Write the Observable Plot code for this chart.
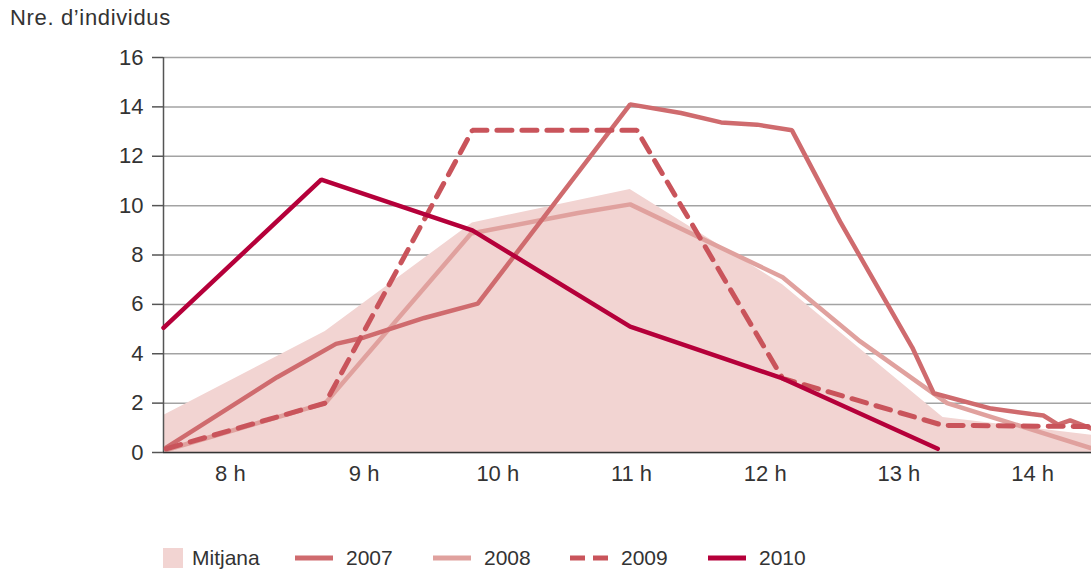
<!DOCTYPE html>
<html>
<head>
<meta charset="utf-8">
<script src="https://cdn.jsdelivr.net/npm/d3@7"></script>
<script src="https://cdn.jsdelivr.net/npm/@observablehq/plot@0.6"></script>
<style>
  html, body { margin: 0; padding: 0; background: #fff; }
  body { width: 1091px; height: 572px; position: relative; overflow: hidden;
         font-family: "Liberation Sans", Arial, sans-serif; color: #333; }
  #title { position: absolute; left: 10px; top: 7px; font-size: 22px; line-height: 22px; letter-spacing: 0.65px; }
  #chart { position: absolute; left: 0; top: 40px; }
  #chart text { font-size: 22px; }
  #legend { position: absolute; left: 0; top: 546px; width: 1091px; height: 24px; font-size: 21px; line-height: 24px; }
  .item { position: absolute; top: 0; display: flex; align-items: center; height: 24px; }
  .item svg { display: block; }
</style>
</head>
<body>
<div id="title">Nre. d’individus</div>
<div id="chart"></div>
<div id="legend"></div>
<script>
// ---- data (hours of day, number of individuals) ----
const xDomain = [7.5, 14.44];
const hourTicks = [8, 9, 10, 11, 12, 13, 14];
const yTicks = [0, 2, 4, 6, 8, 10, 12, 14, 16];
const seriesNames = ["Mitjana", "2007", "2008", "2009", "2010"];

const mitjanaHours  = [7.5, 8.71, 9.81, 10.99, 12.13, 13.33, 14.44];
const mitjanaValues = [1.5, 4.9, 9.3, 10.65, 6.8, 1.42, 0.7];

const hours2007  = [7.52, 8.35, 8.79, 9.0, 9.45, 9.85, 10.99, 11.37, 11.67, 11.94, 12.2, 12.56, 13.1, 13.26, 13.69, 13.99, 14.08, 14.19, 14.28, 14.44];
const values2007 = [0.2, 3.05, 4.4, 4.66, 5.45, 6.03, 14.1, 13.75, 13.37, 13.28, 13.05, 9.35, 4.25, 2.4, 1.78, 1.56, 1.5, 1.13, 1.3, 0.97];

const hours2008  = [7.52, 8.71, 9.8, 10.6, 10.99, 12.13, 12.71, 13.36, 14.44];
const values2008 = [0.1, 2.0, 8.87, 9.7, 10.05, 7.1, 4.5, 2.0, 0.17];

const hours2009  = [7.52, 8.71, 9.81, 11.04, 12.13, 13.33, 14.44];
const values2009 = [0.15, 2.0, 13.05, 13.05, 3.0, 1.1, 1.05];

const hours2010  = [7.5, 8.68, 9.81, 10.99, 12.13, 13.29];
const values2010 = [5.05, 11.05, 9.0, 5.1, 3.0, 0.15];

const colors = {
  "Mitjana": "#f2d4d2",
  "2007": "#cf6b6e",
  "2008": "#e0a19e",
  "2009": "#c9545b",
  "2010": "#b5003a"
};

const toRows = (hs, vs) => hs.map((h, i) => ({h, v: vs[i]}));
const mitjana = toRows(mitjanaHours, mitjanaValues);
const d2007 = toRows(hours2007, values2007);
const d2008 = toRows(hours2008, values2008);
const d2009 = toRows(hours2009, values2009);
const d2010 = toRows(hours2010, values2010);

const chart = Plot.plot({
  width: 1091,
  height: 470,
  marginLeft: 163,
  marginRight: 0,
  marginTop: 17,
  marginBottom: 58,
  style: {fontFamily: "'Liberation Sans', Arial, sans-serif", fontSize: "22px", color: "#333", background: "transparent"},
  x: {domain: xDomain, label: null},
  y: {domain: [0, 16], label: null},
  marks: [
    Plot.gridY(yTicks, {stroke: "#a3a3a3", strokeOpacity: 1, strokeWidth: 1.5}),
    Plot.areaY(mitjana, {x: "h", y: "v", fill: colors["Mitjana"], curve: "linear"}),
    Plot.ruleX([xDomain[0]], {y1: 0, y2: 16, stroke: "#555", strokeWidth: 1.5}),
    Plot.line(d2008, {x: "h", y: "v", stroke: colors["2008"], strokeWidth: 4.5, strokeLinejoin: "miter"}),
    Plot.line(d2007, {x: "h", y: "v", stroke: colors["2007"], strokeWidth: 4.5, strokeLinejoin: "miter"}),
    Plot.line(d2009, {x: "h", y: "v", stroke: colors["2009"], strokeWidth: 5, strokeDasharray: "15,10", strokeLinejoin: "miter"}),
    Plot.line(d2010, {x: "h", y: "v", stroke: colors["2010"], strokeWidth: 4.5, strokeLinejoin: "miter"}),
    Plot.ruleY([0], {stroke: "#333", strokeWidth: 1.5}),
    Plot.axisY(yTicks, {tickSize: 11, tickPadding: 9, stroke: "#555", strokeWidth: 1.5, fill: "#333"}),
    Plot.axisX(hourTicks, {tickSize: 0, tickPadding: 13, tickFormat: d => `${d} h`, fill: "#333"})
  ]
});
document.getElementById("chart").appendChild(chart);

// ---- legend ----
const legendLeft = [163, 295, 433, 570, 708];
const legend = d3.select("#legend");
seriesNames.forEach((name, i) => {
  const item = legend.append("div").attr("class", "item").style("left", legendLeft[i] + "px");
  if (name === "Mitjana") {
    const s = item.append("svg").attr("width", 20).attr("height", 20).style("margin-right", "9px");
    s.append("rect").attr("width", 20).attr("height", 20).attr("fill", colors[name]);
  } else {
    const s = item.append("svg").attr("width", 38).attr("height", 20).style("margin-right", "13px");
    const ln = s.append("line").attr("x1", 0).attr("x2", 38).attr("y1", 10).attr("y2", 10)
      .attr("stroke", colors[name]).attr("stroke-width", 5);
    if (name === "2009") ln.attr("stroke-dasharray", "15,8");
  }
  item.append("span").text(name);
});
</script>
</body>
</html>
